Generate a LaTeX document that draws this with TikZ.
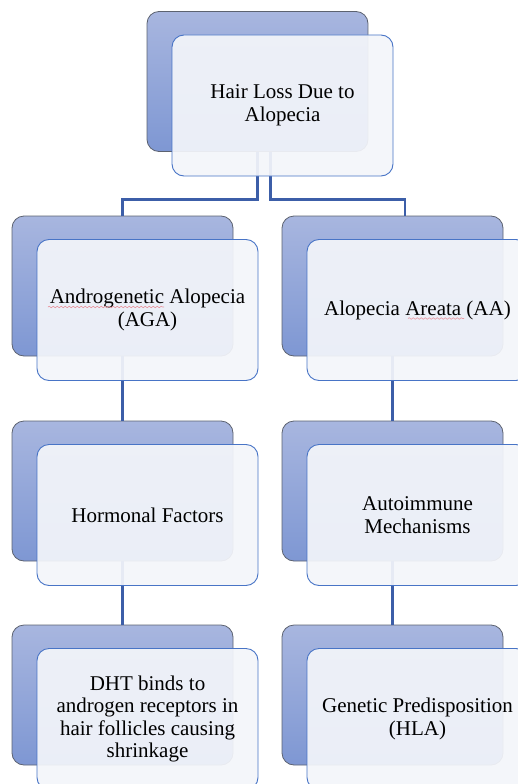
\documentclass[tikz,border=0pt]{standalone}
\usepackage{fontspec}
\setmainfont{Liberation Serif}
\usepackage{xcolor}
\usetikzlibrary{positioning,decorations.pathmorphing}

\definecolor{backtop}{RGB}{168,182,223}
\definecolor{backbot}{RGB}{126,151,211}
\definecolor{backline}{RGB}{92,98,112}
\definecolor{frontfill}{RGB}{243,245,250}
\definecolor{frontline}{RGB}{72,116,198}
\definecolor{linkblue}{RGB}{60,94,168}
\definecolor{wavered}{RGB}{232,150,160}

\begin{document}
\begin{tikzpicture}[x=1pt,y=-1pt,
    backbox/.style={rectangle,rounded corners=12pt,draw=backline,line width=0.8pt,
      top color=backtop,bottom color=backbot,minimum width=221pt,minimum height=140pt,inner sep=0pt},
    frontbox/.style={rectangle,rounded corners=12pt,draw=frontline,line width=0.9pt,
      fill=frontfill,fill opacity=0.93,text opacity=1,minimum width=221pt,minimum height=141pt,
      align=center,inner sep=0pt,font=\fontsize{21}{22.5}\selectfont},
    link/.style={draw=linkblue,line width=2.2pt},
    spellwave/.style={draw=wavered,line width=0.6pt,decorate,
      decoration={snake,segment length=4pt,amplitude=0.8pt}}]
      \clip (0,0) rectangle (518,784);

      % back boxes
      \node[backbox] (mainb) at (257.5,81.5) {};
      \node[backbox] (agab) at (122.5,286) {};
      \node[backbox] (aab) at (392.5,286) {};
      \node[backbox] (hormb) at (122.5,491) {};
      \node[backbox] (autob) at (392.5,491) {};
      \node[backbox] (dhtb) at (122.5,695) {};
      \node[backbox] (hlab) at (392.5,695) {};

      % connectors
      \draw[link] (mainb.south) -- ++(0,47.5) -| (agab.north);
      \draw[link] ([xshift=13pt]mainb.south) -- ++(0,47.5) -| ([xshift=12.5pt]aab.north);
      \draw[link] (agab.south) -- (hormb.north);
      \draw[link] (hormb.south) -- (dhtb.north);
      \draw[link] (aab.south) -- (autob.north);
      \draw[link] (autob.south) -- (hlab.north);

      % front boxes
      \node[frontbox] (mainf) at ([shift={(25,24)}]mainb) {Hair Loss Due to\\Alopecia};
      \node[frontbox] (agaf) at ([shift={(25,24)}]agab) {Androgenetic Alopecia\\(AGA)};
      \node[frontbox] (aaf) at ([shift={(25,24)}]aab) {Alopecia Areata (AA)};
      \node[frontbox] (hormf) at ([shift={(25,24)}]hormb) {Hormonal Factors};
      \node[frontbox] (autof) at ([shift={(25,24)}]autob) {Autoimmune\\Mechanisms};
      \node[frontbox] (dhtf) at ([shift={(25,24)}]dhtb) {DHT binds to\\androgen receptors in\\hair follicles causing\\shrinkage};
      \node[frontbox] (hlaf) at ([shift={(25,24)}]hlab) {Genetic Predisposition\\(HLA)};

      % spell check marks
      \draw[spellwave] ([shift={(-99.5,-3)}]agaf.center) -- ([shift={(16.5,-3)}]agaf.center);
      \draw[spellwave] ([shift={(-9.5,8.5)}]aaf.center) -- ([shift={(46.5,8.5)}]aaf.center);
    \end{tikzpicture}
\end{document}
